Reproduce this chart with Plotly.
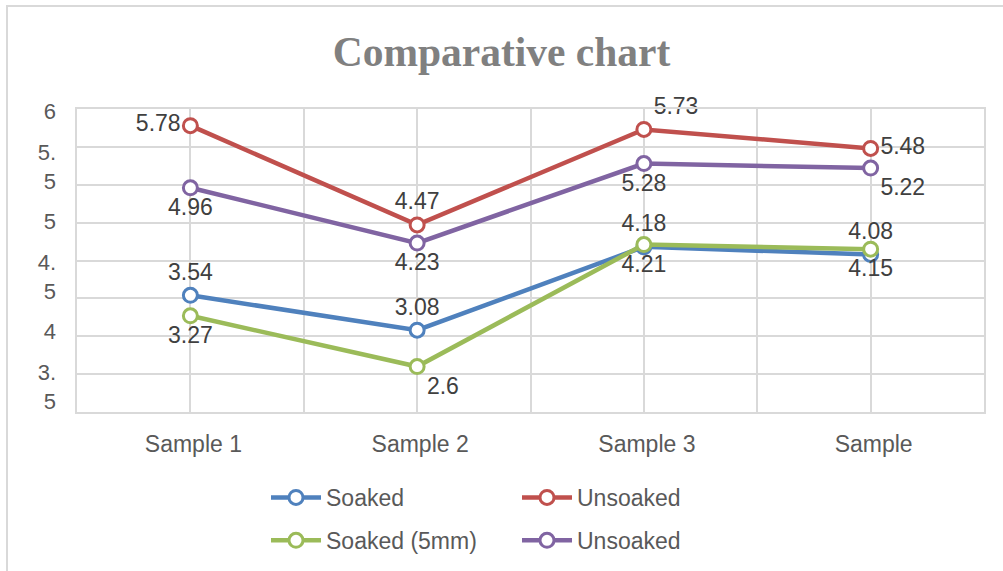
import plotly.graph_objects as go

# Categories and series values
categories = ["Sample 1", "Sample 2", "Sample 3", "Sample"]
soaked = [3.54, 3.08, 4.18, 4.08]
unsoaked = [5.78, 4.47, 5.73, 5.48]
soaked_5mm = [3.27, 2.6, 4.21, 4.15]
unsoaked_b = [4.96, 4.23, 5.28, 5.22]

# Value-axis labels (wrapped as they appear on the axis)
y_label_values = [6, 5.5, 5, 4.5, 4, 3.5]
y_label_text = ["6", "5.<br>5", "5", "4.<br>5", "4", "3.<br>5"]

W, H = 1003, 571
ML, MR, MT, MB = 77, 19, 109, 159
PW, PH = W - ML - MR, H - MT - MB

FONT = "Liberation Sans, Arial, sans-serif"
GRID = "#D9D9D9"


def px_x(px):
    return (px - ML) / PW


def px_y(py):
    return (H - MB - py) / PH


xpos = list(range(len(categories)))

series = [
    ("Soaked", soaked, "#4F81BD", ["top center"] * 4, "legend"),
    ("Unsoaked", unsoaked, "#C0504D",
     ["middle left", "top center", "top right", "middle right"], "legend2"),
    ("Soaked (5mm)", soaked_5mm, "#9BBB59",
     ["bottom center", "bottom right", "bottom center", "bottom center"], "legend"),
    ("Unsoaked", unsoaked_b, "#8064A2",
     ["bottom center", "bottom center", "bottom center", "bottom right"], "legend2"),
]

fig = go.Figure()
for i, (name, vals, color, tpos, leg) in enumerate(series):
    fig.add_trace(go.Scatter(
        x=xpos, y=vals, name=name, mode="lines+markers+text",
        text=[f"{v:g}" for v in vals], textposition=tpos,
        textfont=dict(family=FONT, size=23, color="#404040"),
        line=dict(color=color, width=4.5),
        marker=dict(symbol="circle", size=14, color="white",
                    line=dict(color=color, width=3)),
        legend=leg, legendgroup=f"g{i}",
        cliponaxis=False,
    ))

# empty trace so the label axis gets its own subplot layer
fig.add_trace(go.Scatter(x=[], y=[], yaxis="y2", showlegend=False,
                         hoverinfo="skip"))

legend_common = dict(
    xanchor="left", yanchor="top", orientation="v",
    font=dict(family=FONT, size=23, color="#595959"),
    bgcolor="rgba(0,0,0,0)", tracegroupgap=10, itemwidth=50,
)

fig.update_layout(
    width=W, height=H,
    margin=dict(l=ML, r=MR, t=MT, b=MB, pad=0, autoexpand=False),
    paper_bgcolor="white", plot_bgcolor="white",
    title=dict(text="Comparative chart", x=0.5, xanchor="center",
               y=1 - 51 / H, yanchor="middle", yref="container",
               font=dict(family="Liberation Serif, Times New Roman, serif",
                         size=41.5, color="#808080", weight="bold")),
    xaxis=dict(
        range=[-0.5, len(categories) - 0.5],
        tickvals=xpos, ticktext=categories,
        tickfont=dict(family=FONT, size=23, color="#595959"),
        showgrid=True, gridcolor=GRID, gridwidth=2,
        minor=dict(tick0=-0.5, dtick=1, showgrid=True, gridcolor=GRID, gridwidth=2),
        showline=True, linecolor=GRID, linewidth=2, mirror=True,
        zeroline=False, ticks="", ticklabelshift=3, ticklabelstandoff=10,
    ),
    yaxis=dict(
        range=[2, 6], dtick=0.5, showticklabels=False,
        showgrid=True, gridcolor=GRID, gridwidth=2,
        showline=True, linecolor=GRID, linewidth=2, mirror=True,
        zeroline=False, ticks="",
    ),
    yaxis2=dict(
        overlaying="y", side="left", anchor="x",
        range=[3.27, 6.023],
        tickvals=y_label_values, ticktext=y_label_text,
        tickfont=dict(family=FONT, size=22, color="#595959"),
        showgrid=False, zeroline=False, showline=False, ticks="",
        ticklabelstandoff=20,
    ),
    legend=dict(x=px_x(266), y=px_y(476), **legend_common),
    legend2=dict(x=px_x(517), y=px_y(476), **legend_common),
    shapes=[dict(
        type="rect", xref="paper", yref="paper", layer="below",
        x0=px_x(7), x1=px_x(W + 10), y0=px_y(H + 10), y1=px_y(6),
        line=dict(color=GRID, width=2), fillcolor="rgba(0,0,0,0)",
    )],
)

fig.write_html("out.html")
